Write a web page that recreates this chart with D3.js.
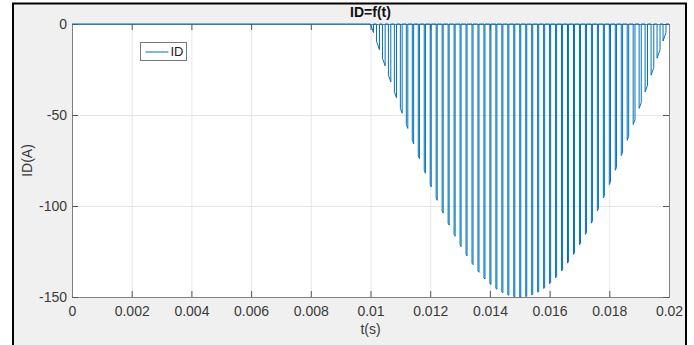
<!DOCTYPE html>
<html>
<head>
<meta charset="utf-8">
<script src="https://cdn.jsdelivr.net/npm/d3@7"></script>
<style>
  html, body { margin: 0; padding: 0; background: #ffffff; }
  svg { display: block; }
  text { font-family: "Liberation Sans", Arial, Helvetica, sans-serif; }
</style>
</head>
<body>
<svg id="chart" width="694" height="345"></svg>
<script>
// Diode current ID over one period: zero until 10 ms, then a train of
// switching pulses whose depth follows the half-wave current envelope.
const xTicks = [0, 0.002, 0.004, 0.006, 0.008, 0.01, 0.012, 0.014, 0.016, 0.018, 0.02];
const xTickLabels = ["0", "0.002", "0.004", "0.006", "0.008", "0.01", "0.012", "0.014", "0.016", "0.018", "0.02"];
const yTicks = [0, -50, -100, -150];
const yTickLabels = ["0", "-50", "-100", "-150"];

// Pulse edges (s): the current falls at tFall and returns to zero at tRise.
const tFall = [0.0100, 0.0102, 0.0104, 0.0106, 0.0108, 0.0110, 0.0112, 0.0114, 0.0116, 0.0118,
               0.0120, 0.0122, 0.0124, 0.0126, 0.0128, 0.0130, 0.0132, 0.0134, 0.0136, 0.0138,
               0.0140, 0.0142, 0.0144, 0.0146, 0.0148, 0.0150, 0.0152, 0.0154, 0.0156, 0.0158,
               0.0160, 0.0162, 0.0164, 0.0166, 0.0168, 0.0170, 0.0172, 0.0174, 0.0176, 0.0178,
               0.0180, 0.0182, 0.0184, 0.0186, 0.0188, 0.0190, 0.0192, 0.0194, 0.0196, 0.0198];
const tRise = [0.0101, 0.0103, 0.01049, 0.01068, 0.01087, 0.01106, 0.01125, 0.011445, 0.01164, 0.01184,
               0.012035, 0.012235, 0.012435, 0.012635, 0.012835, 0.013035, 0.013235, 0.013435, 0.013635, 0.013835,
               0.014035, 0.014235, 0.014435, 0.014635, 0.014835, 0.015035, 0.015235, 0.015435, 0.015635, 0.015835,
               0.016035, 0.016235, 0.016435, 0.016635, 0.016835, 0.017035, 0.017235, 0.017435, 0.017635, 0.017835,
               0.01804, 0.01824, 0.018445, 0.01865, 0.01886, 0.01907, 0.01928, 0.01949, 0.0197, 0.0199];
// Current (A) at the start and the end of each conduction interval.
const iFall = [0, -9.4, -18.8, -28.1, -37.3, -46.4, -55.2, -63.9, -72.3, -80.4,
               -88.2, -95.6, -102.7, -109.4, -115.6, -121.4, -126.6, -131.4, -135.7, -139.5,
               -142.7, -145.3, -147.3, -148.8, -149.7, -150.0, -149.7, -148.8, -147.3, -145.3,
               -142.7, -139.5, -135.7, -131.4, -126.6, -121.4, -115.6, -109.4, -102.7, -95.6,
               -88.2, -80.4, -72.3, -63.9, -55.2, -46.4, -37.3, -28.1, -18.8, -9.4];
const iRise = [-4.7, -14.1, -23.0, -31.8, -40.5, -49.0, -57.4, -65.8, -73.9, -82.0,
               -89.5, -96.9, -103.9, -110.5, -116.6, -122.3, -127.5, -132.2, -136.4, -140.1,
               -143.1, -145.7, -147.6, -149.0, -149.8, -150.0, -149.6, -148.6, -147.0, -144.9,
               -142.1, -138.8, -135.0, -130.6, -125.7, -120.4, -114.5, -108.2, -101.4, -94.3,
               -86.6, -78.8, -70.4, -61.7, -52.6, -43.2, -33.6, -23.9, -14.1, -4.7];

const tStart = 0, tEnd = 0.02;
const seriesName = "ID";

const svg = d3.select("#chart");
const plot = { left: 72, top: 24, right: 669, bottom: 297 };
const blue = "#0072BD";
const axisGrey = "#808080";
const textCol = "#3a3a3a";

// Figure window: grey panel with a dark frame
svg.append("rect")
  .attr("x", 13).attr("y", 3.5)
  .attr("width", 673).attr("height", 400)
  .attr("fill", "#f0f0f0")
  .attr("stroke", "#000").attr("stroke-width", 2);

const x = d3.scaleLinear().domain([tStart, tEnd]).range([plot.left, plot.right]);
const y = d3.scaleLinear().domain([-150, 0]).range([plot.bottom, plot.top]);

// Axes background
svg.append("rect")
  .attr("x", plot.left).attr("y", plot.top)
  .attr("width", plot.right - plot.left).attr("height", plot.bottom - plot.top)
  .attr("fill", "#fff");

const ph = plot.bottom - plot.top, pw = plot.right - plot.left;

// Grid lines
const gridX = svg.append("g")
  .attr("transform", `translate(0,${plot.bottom})`)
  .call(d3.axisBottom(x).tickValues(xTicks).tickSize(-ph).tickFormat(""));
const gridY = svg.append("g")
  .attr("transform", `translate(${plot.left},0)`)
  .call(d3.axisLeft(y).tickValues(yTicks).tickSize(-pw).tickFormat(""));
[gridX, gridY].forEach(g => {
  g.select(".domain").remove();
  g.selectAll(".tick line").attr("stroke", "#e6e6e6");
});

// Inward tick marks on all four sides
const tickLen = 6;
const tb = svg.append("g").attr("transform", `translate(0,${plot.bottom})`)
  .call(d3.axisBottom(x).tickValues(xTicks).tickSize(-tickLen).tickFormat(""));
const tt = svg.append("g").attr("transform", `translate(0,${plot.top})`)
  .call(d3.axisTop(x).tickValues(xTicks).tickSize(-tickLen).tickFormat(""));
const tl = svg.append("g").attr("transform", `translate(${plot.left},0)`)
  .call(d3.axisLeft(y).tickValues(yTicks).tickSize(-tickLen).tickFormat(""));
const tr = svg.append("g").attr("transform", `translate(${plot.right},0)`)
  .call(d3.axisRight(y).tickValues(yTicks).tickSize(-tickLen).tickFormat(""));
[tb, tt, tl, tr].forEach(g => {
  g.select(".domain").attr("stroke", axisGrey);
  g.selectAll(".tick line").attr("stroke", "#555");
});

// Tick labels
const xl = svg.append("g").attr("transform", `translate(0,${plot.bottom})`)
  .call(d3.axisBottom(x).tickValues(xTicks).tickSize(0).tickPadding(9)
    .tickFormat((d, i) => xTickLabels[i]));
const yl = svg.append("g").attr("transform", `translate(${plot.left},0)`)
  .call(d3.axisLeft(y).tickValues(yTicks).tickSize(0).tickPadding(5)
    .tickFormat((d, i) => yTickLabels[i]));
[xl, yl].forEach(g => {
  g.select(".domain").remove();
  g.selectAll("text").attr("font-size", 14).attr("fill", textCol)
    .attr("font-family", "Liberation Sans, Arial, sans-serif");
});

// Current trace
const pts = [[tStart, 0]];
tFall.forEach((tf, k) => {
  pts.push([tf, 0], [tf, iFall[k]], [tRise[k], iRise[k]], [tRise[k], 0]);
});
pts.push([tEnd, 0]);

svg.append("path")
  .datum(pts)
  .attr("fill", "none")
  .attr("stroke", blue)
  .attr("stroke-width", 1)
  .attr("stroke-linejoin", "round")
  .attr("d", d3.line().x(d => x(d[0])).y(d => y(d[1])));

// Title and axis labels
svg.append("text")
  .attr("x", (plot.left + plot.right) / 2).attr("y", 17)
  .attr("text-anchor", "middle")
  .attr("font-size", 14).attr("font-weight", "bold").attr("fill", "#111")
  .text("ID=f(t)");
svg.append("text")
  .attr("x", (plot.left + plot.right) / 2).attr("y", 334)
  .attr("text-anchor", "middle")
  .attr("font-size", 14).attr("fill", textCol)
  .text("t(s)");
svg.append("text")
  .attr("transform", `translate(32,${(plot.top + plot.bottom) / 2}) rotate(-90)`)
  .attr("text-anchor", "middle")
  .attr("font-size", 14).attr("fill", textCol)
  .text("ID(A)");

// Legend
const lg = svg.append("g").attr("transform", "translate(140.5,42.5)");
lg.append("rect").attr("width", 46).attr("height", 18)
  .attr("fill", "#fff").attr("stroke", "#777").attr("stroke-width", 1);
lg.append("line").attr("x1", 5).attr("x2", 28).attr("y1", 9.5).attr("y2", 9.5)
  .attr("stroke", blue).attr("stroke-width", 1);
lg.append("text").attr("x", 30).attr("y", 13.5)
  .attr("font-size", 13).attr("fill", "#222")
  .text(seriesName);
</script>
</body>
</html>
